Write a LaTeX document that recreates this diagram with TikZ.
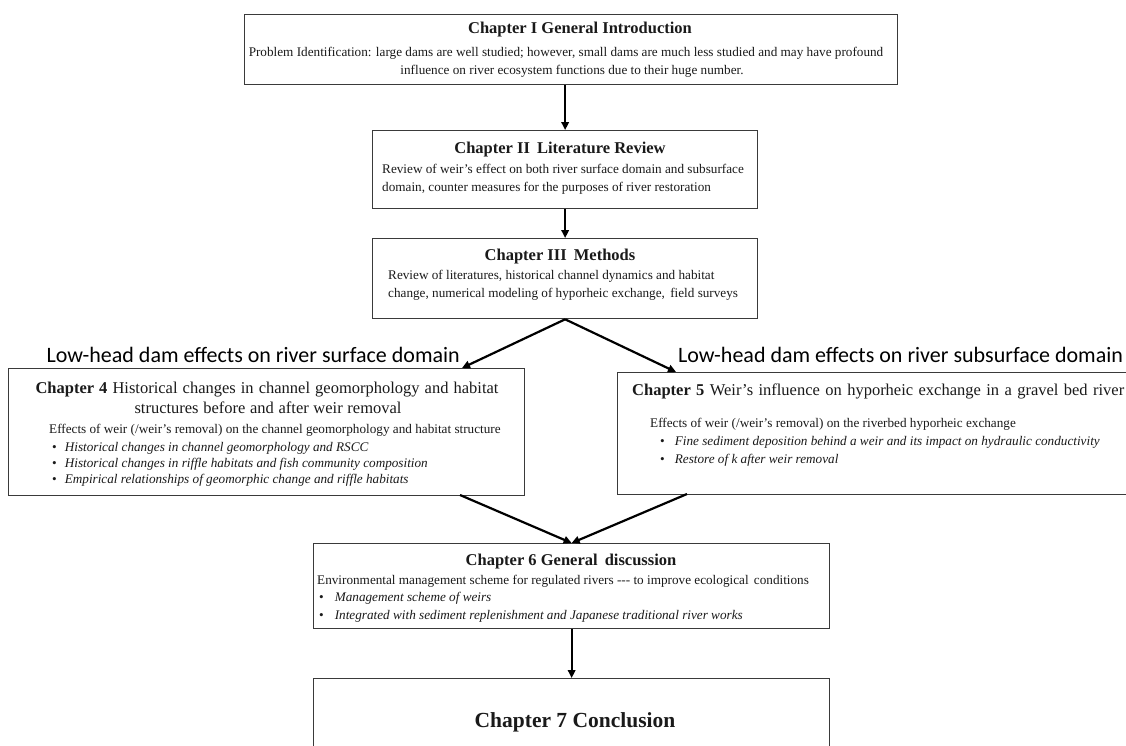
\documentclass[tikz,border=0pt]{standalone}
\usepackage{fontspec}
\setmainfont{Liberation Serif}
\newfontfamily\calib{Carlito}
\usetikzlibrary{arrows.meta,calc}
\definecolor{ink}{HTML}{1A1A1A}
\definecolor{edge}{HTML}{3A3A3A}
\tikzset{
  box/.style={draw=edge, line width=1.3pt, inner sep=0pt, anchor=north west},
  conn/.style={draw=black, line width=2.2pt, -{Triangle[length=8pt,width=7.5pt]}},
  ttl/.style={inner sep=0pt, anchor=base, text=ink, font=\fontsize{16.5}{18}\selectfont\bfseries},
  bigttl/.style={inner sep=0pt, anchor=base, text=ink, font=\fontsize{21.5}{24}\selectfont\bfseries},
  txt/.style={inner sep=0pt, anchor=base, text=ink, font=\fontsize{13.2}{16}\selectfont},
  txtl/.style={txt, anchor=base west},
  bul/.style={txt, anchor=base west},
  lbl/.style={inner sep=0pt, text=black, font=\calib\fontsize{22}{26}\selectfont}
}
\begin{document}
\begin{tikzpicture}[x=1pt,y=-1pt]
\useasboundingbox (0,0) rectangle (1126,745);
\clip (0,0) rectangle (1126,745);
\fill[white] (0,0) rectangle (1126,745);

% boxes
\node[box, minimum width=653pt, minimum height=70pt] (b1) at (244,14) {};
\node[box, minimum width=385pt, minimum height=78pt] (b2) at (372,130) {};
\node[box, minimum width=385pt, minimum height=80pt] (b3) at (372,238) {};
\node[box, minimum width=516pt, minimum height=127pt] (b4) at (8,368) {};
\node[box, minimum width=540pt, minimum height=122pt] (b5) at (617,372) {};
\node[box, minimum width=516pt, minimum height=85pt] (b6) at (313,543) {};
\node[box, minimum width=516pt, minimum height=110pt] (b7) at (313,678) {};

% Chapter I
\node[ttl] (h1) at (580,33.5) {Chapter I General Introduction};
\node[txt] (p1a) at (566,56.5) {Problem Identification: large dams are well studied; however, small dams are much less studied and may have profound};
\node[txt] (p1b) at (572,74.5) {influence on river ecosystem functions due to their huge number.};

% Chapter II
\node[ttl] (h2) at (560,153.5) {Chapter II\hspace{3pt} Literature Review};
\node[txtl] (p2a) at (382,173.5) {Review of weir’s effect on both river surface domain and subsurface};
\node[txtl] (p2b) at (382,191.5) {domain, counter measures for the purposes of river restoration};

% Chapter III
\node[ttl] (h3) at (560,260.5) {Chapter III\hspace{3pt} Methods};
\node[txtl] (p3a) at (388,279.5) {Review of literatures, historical channel dynamics and habitat};
\node[txtl] (p3b) at (388,297.5) {change, numerical modeling of hyporheic exchange,\hspace{2pt} field surveys};

% domain labels
\node[lbl, anchor=base east] (lL) at (460,362) {Low-head dam effects on river surface domain};
\node[lbl, anchor=base west] (lR) at (678,362) {Low-head dam effects on river subsurface domain};

% Chapter 4
\node[ttl, font=\fontsize{16.5}{18}\selectfont] (h4a) at (267,393.5) {\makebox[463pt][s]{\textbf{Chapter 4} Historical changes in channel geomorphology and habitat}};
\node[ttl, font=\fontsize{16.5}{18}\selectfont] (h4b) at (268,413.5) {\makebox[267pt][s]{structures before and after weir removal}};
\node[txtl] (p4) at (49,433.5) {Effects of weir (/weir’s removal) on the channel geomorphology and habitat structure};
\node[bul] (p4a) at (52,451.5) {•\hspace{8pt}\textit{Historical changes in channel geomorphology and RSCC}};
\node[bul] (p4b) at (52,467.5) {•\hspace{8pt}\textit{Historical changes in riffle habitats and fish community composition}};
\node[bul] (p4c) at (52,483) {•\hspace{8pt}\textit{Empirical relationships of geomorphic change and riffle habitats}};

% Chapter 5
\node[ttl, anchor=base west, font=\fontsize{16.5}{18}\selectfont] (h5) at (632,395.5) {\makebox[492pt][s]{\textbf{Chapter 5} Weir’s influence on hyporheic exchange in a gravel bed river}};
\node[txtl] (p5) at (650,427.5) {Effects of weir (/weir’s removal) on the riverbed hyporheic exchange};
\node[bul] (p5a) at (660,445.5) {•\hspace{10pt}\textit{Fine sediment deposition behind a weir and its impact on hydraulic conductivity}};
\node[bul] (p5b) at (660,463.5) {•\hspace{10pt}\textit{Restore of k after weir removal}};

% Chapter 6
\node[ttl] (h6) at (571,565.5) {Chapter 6 General\hspace{3pt} discussion};
\node[txtl] (p6) at (317,584.5) {Environmental management scheme for regulated rivers -\kern0pt-\kern0pt- to improve ecological\hspace{2pt} conditions};
\node[bul] (p6a) at (319,601.5) {•\hspace{11pt}\textit{Management scheme of weirs}};
\node[bul] (p6b) at (319,619.5) {•\hspace{11pt}\textit{Integrated with sediment replenishment and Japanese traditional river works}};

% Chapter 7
\node[bigttl] (h7) at (575,727) {Chapter 7 Conclusion};

% connector end points
\coordinate (t4) at (462,368);
\coordinate (t5) at (676,372);
\coordinate (s4) at (460,495);
\coordinate (s5) at (687,494);

% connectors
\draw[conn] (b2.north |- b1.south) -- (b2.north);
\draw[conn] (b2.south) -- (b3.north);
\draw[conn] (b3.south) -- (t4);
\draw[conn] (b3.south) -- (t5);
\draw[conn] (s4) -- (b6.north);
\draw[conn] (s5) -- (b6.north);
\draw[conn] (b6.south) -- (b7.north);
\end{tikzpicture}
\end{document}
